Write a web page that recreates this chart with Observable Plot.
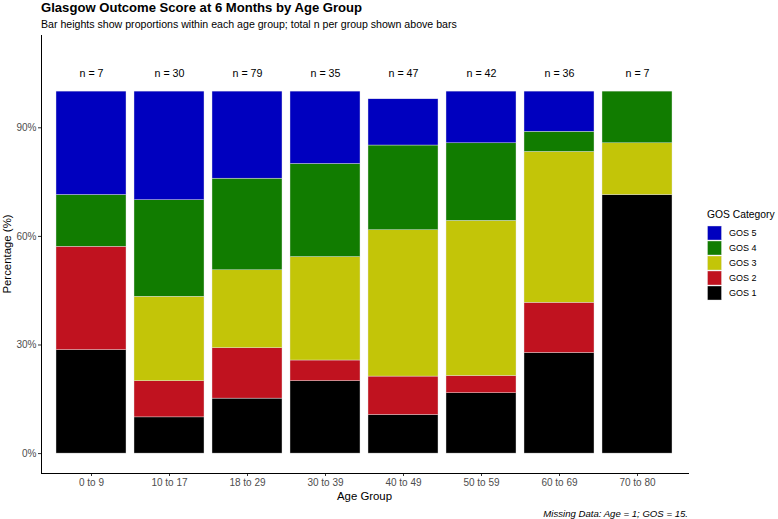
<!DOCTYPE html>
<html><head><meta charset="utf-8">
<script src="https://cdn.jsdelivr.net/npm/d3@7"></script>
<script src="https://cdn.jsdelivr.net/npm/@observablehq/plot@0.6"></script>
<style>body{margin:0;background:#fff;font-family:"Liberation Sans",Arial,sans-serif}</style>
</head><body><div id="chart"></div>
<script>
const ageGroups = ["0 to 9","10 to 17","18 to 29","30 to 39","40 to 49","50 to 59","60 to 69","70 to 80"];
const totals = [7,30,79,35,47,42,36,7];
const gosCategories = ["GOS 1","GOS 2","GOS 3","GOS 4","GOS 5"];
const gosColors = ["#000000","#C0121F","#C3C508","#117C00","#0000BF"];
const gos1 = [2,3,12,7,5,7,10,5];
const gos2 = [2,3,11,2,5,2,5,0];
const gos3 = [0,7,17,10,19,18,15,1];
const gos4 = [1,8,20,9,11,9,2,1];
const gos5 = [2,9,19,7,6,6,4,0];
const yTicks = [0,0.3,0.6,0.9];
const titleText = "Glasgow Outcome Score at 6 Months by Age Group";
const subtitleText = "Bar heights show proportions within each age group; total n per group shown above bars";
const captionText = "Missing Data: Age = 1; GOS = 15.";

const counts = [gos1,gos2,gos3,gos4,gos5];
const rows = [];
gosCategories.forEach((g,i)=>ageGroups.forEach((a,j)=>rows.push({age:a,gos:g,prop:counts[i][j]/totals[j]})));
const labels = ageGroups.map((a,j)=>({age:a,label:`n = ${totals[j]}`,y:1.05}));

const W=778,H=519,mL=41,mR=90,mT=35,mB=46;
const plot = Plot.plot({
  width:W,height:H,marginLeft:mL,marginRight:mR,marginTop:mT,marginBottom:mB,
  style:{fontFamily:'"Liberation Sans",Arial,sans-serif',fontSize:"10px",background:"#fff",color:"#4d4d4d"},
  x:{domain:ageGroups,paddingInner:0.1,paddingOuter:0.15,label:null},
  y:{domain:[-0.055,1.155],label:null},
  color:{domain:gosCategories,range:gosColors},
  marks:[
    Plot.barY(rows,{x:"age",y:"prop",fill:"gos",order:gosCategories,stroke:"#e6e6e6",strokeWidth:0.4}),
    Plot.text(labels,{x:"age",y:"y",text:"label",fill:"#000",fontSize:10.7}),
    Plot.axisY({ticks:yTicks,tickFormat:d3.format(".0%"),tickSize:3,tickPadding:2,label:null,color:"#4d4d4d",stroke:"#333"}),
    Plot.axisX({tickSize:3,tickPadding:2,label:null,color:"#4d4d4d",stroke:"#333"}),
    Plot.frame({anchor:"left",stroke:"#000"}),
    Plot.frame({anchor:"bottom",stroke:"#000"})
  ]
});
document.getElementById("chart").appendChild(plot);
const svg = d3.select(plot);
const ff='"Liberation Sans",Arial,sans-serif';
svg.append("text").attr("x",mL).attr("y",12).attr("text-anchor","start").attr("font-size",13.1).attr("font-weight","bold").attr("fill","#000").attr("font-family",ff).text(titleText);
svg.append("text").attr("x",mL).attr("y",28).attr("text-anchor","start").attr("font-size",10.6).attr("fill","#000").attr("font-family",ff).text(subtitleText);
svg.append("text").attr("x",(mL+W-mR)/2).attr("y",H-19).attr("text-anchor","middle").attr("font-size",11.4).attr("fill","#000").attr("font-family",ff).text("Age Group");
svg.append("text").attr("transform",`translate(11,${(mT+H-mB)/2}) rotate(-90)`).attr("text-anchor","middle").attr("font-size",11.4).attr("fill","#000").attr("font-family",ff).text("Percentage (%)");
svg.append("text").attr("x",W-mR).attr("y",H-2.5).attr("text-anchor","end").attr("font-size",9.6).attr("font-style","italic").attr("fill","#000").attr("font-family",ff).text(captionText);
const color = plot.scale("color");
const lg = svg.append("g").attr("font-family",ff).attr("text-anchor","start");
lg.append("text").attr("x",707).attr("y",218).attr("font-size",10.3).attr("fill","#000").text("GOS Category");
const legendItems = color.domain.slice().reverse();
legendItems.forEach((g,i)=>{
  const c = color.range[color.domain.indexOf(g)];
  lg.append("rect").attr("x",707.5).attr("y",226+i*15).attr("width",14).attr("height",14).attr("fill",c).attr("stroke","#e6e6e6").attr("stroke-width",0.4);
  lg.append("text").attr("x",729).attr("y",226+i*15+7).attr("dy","0.35em").attr("font-size",9).attr("fill","#000").text(g);
});
</script></body></html>
